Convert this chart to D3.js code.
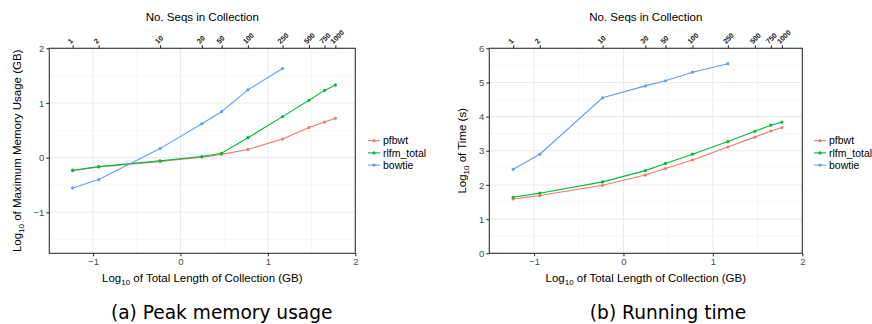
<!DOCTYPE html>
<html>
<head>
<meta charset="utf-8">
<script src="https://cdn.jsdelivr.net/npm/d3@7"></script>
<style>
  body { margin: 0; background: #fff; }
  svg { display: block; }
</style>
</head>
<body>
<div id="chart"></div>
<script>
// x positions: log10 of total collection length (GB), one per collection size
const nSeqs = [1, 2, 10, 30, 50, 100, 250, 500, 750, 1000];
const logLength = [-1.233, -0.935, -0.233, 0.245, 0.47, 0.772, 1.168, 1.47, 1.648, 1.772];

const seriesNames = ['pfbwt', 'rlfm_total', 'bowtie'];
const seriesColors = ['#F8766D', '#00BA38', '#619CFF'];

// (a) log10 peak memory (GB)
const memPfbwt = [-0.24, -0.17, -0.07, 0.01, 0.06, 0.15, 0.34, 0.55, 0.65, 0.72];
const memRlfm = [-0.23, -0.165, -0.06, 0.02, 0.08, 0.365, 0.75, 1.05, 1.23, 1.33];
const memBowtie = [-0.555, -0.40, 0.165, 0.62, 0.84, 1.24, 1.63];

// (b) log10 running time (s)
const timePfbwt = [1.59, 1.69, 1.99, 2.29, 2.48, 2.73, 3.11, 3.40, 3.58, 3.68];
const timeRlfm = [1.64, 1.76, 2.09, 2.42, 2.63, 2.90, 3.27, 3.57, 3.75, 3.84];
const timeBowtie = [2.46, 2.90, 4.55, 4.90, 5.05, 5.30, 5.55];

const W = 872, H = 324;
const svg = d3.select('#chart').append('svg')
  .attr('width', W).attr('height', H)
  .attr('font-family', '"Liberation Sans", Arial, sans-serif');

function drawPanel(opts) {
  const x = d3.scaleLinear().domain([-1.5, 2]).range([opts.left, opts.right]);
  const y = d3.scaleLinear().domain(opts.yDomain).range([opts.bottom, opts.top]);
  const g = svg.append('g');

  // minor grid
  g.selectAll('.vminor').data([-0.5, 0.5, 1.5]).enter().append('line')
    .attr('x1', d => x(d)).attr('x2', d => x(d))
    .attr('y1', opts.top).attr('y2', opts.bottom)
    .attr('stroke', '#F2F2F2').attr('stroke-width', 0.6);
  g.selectAll('.hminor').data(opts.yMinor).enter().append('line')
    .attr('x1', opts.left).attr('x2', opts.right)
    .attr('y1', d => y(d)).attr('y2', d => y(d))
    .attr('stroke', '#F2F2F2').attr('stroke-width', 0.6);
  // major grid
  g.selectAll('.vmajor').data([-1, 0, 1]).enter().append('line')
    .attr('x1', d => x(d)).attr('x2', d => x(d))
    .attr('y1', opts.top).attr('y2', opts.bottom)
    .attr('stroke', '#EBEBEB').attr('stroke-width', 1.1);
  g.selectAll('.hmajor').data(opts.yTicks).enter().append('line')
    .attr('x1', opts.left).attr('x2', opts.right)
    .attr('y1', d => y(d)).attr('y2', d => y(d))
    .attr('stroke', '#EBEBEB').attr('stroke-width', 1.1);

  // series
  const line = d3.line().x(d => x(d[0])).y(d => y(d[1]));
  opts.series.forEach((vals, i) => {
    const pts = vals.map((v, j) => [logLength[j], v]);
    g.append('path').datum(pts)
      .attr('d', line).attr('fill', 'none')
      .attr('stroke', seriesColors[i]).attr('stroke-width', 1.1);
    g.selectAll(null).data(pts).enter().append('circle')
      .attr('cx', d => x(d[0])).attr('cy', d => y(d[1]))
      .attr('r', 1.6).attr('fill', seriesColors[i]);
  });

  // border
  g.append('rect')
    .attr('x', opts.left).attr('y', opts.top)
    .attr('width', opts.right - opts.left).attr('height', opts.bottom - opts.top)
    .attr('fill', 'none').attr('stroke', '#333').attr('stroke-width', 1.1);

  // axes
  const fmt = d => d < 0 ? '\u2212' + Math.abs(d) : String(d);
  const axB = g.append('g').attr('transform', `translate(0,${opts.bottom})`)
    .call(d3.axisBottom(x).tickValues([-1, 0, 1, 2]).tickFormat(fmt).tickSize(3).tickPadding(2));
  const axL = g.append('g').attr('transform', `translate(${opts.left},0)`)
    .call(d3.axisLeft(y).tickValues(opts.yTicks).tickFormat(fmt).tickSize(3).tickPadding(2));
  const axT = g.append('g').attr('transform', `translate(0,${opts.top})`)
    .call(d3.axisTop(x).tickValues(logLength).tickFormat((d, i) => nSeqs[i]).tickSize(3).tickPadding(2));
  [axB, axL, axT].forEach(a => {
    a.select('.domain').remove();
    a.selectAll('.tick line').attr('stroke', '#333').attr('stroke-width', 1.1);
  });
  [axB, axL].forEach(a => {
    a.selectAll('.tick text').attr('fill', '#4D4D4D').attr('font-size', 9.5)
      .attr('font-family', '"Liberation Sans", Arial, sans-serif');
  });
  axT.selectAll('.tick text')
    .attr('fill', '#1a1a1a').attr('font-size', 7.2).attr('font-weight', 'bold')
    .attr('font-family', '"Liberation Sans", Arial, sans-serif')
    .attr('text-anchor', 'start').attr('dy', 0).attr('y', 0)
    .attr('transform', 'translate(-2.5,-4) rotate(-45)');

  const cx = (opts.left + opts.right) / 2;
  const cy = (opts.top + opts.bottom) / 2;
  svg.append('text').attr('x', cx).attr('y', 21)
    .attr('text-anchor', 'middle').attr('font-size', 11.5).attr('fill', '#000')
    .text('No. Seqs in Collection');

  const xt = svg.append('text').attr('x', cx).attr('y', 282)
    .attr('text-anchor', 'middle').attr('font-size', 11.5).attr('fill', '#000');
  xt.append('tspan').text('Log');
  xt.append('tspan').attr('font-size', 8).attr('dy', 2.5).text('10');
  xt.append('tspan').attr('dy', -2.5).text(' of Total Length of Collection (GB)');

  const yt = svg.append('text')
    .attr('transform', `translate(${opts.yTitleX},${cy}) rotate(-90)`)
    .attr('text-anchor', 'middle').attr('font-size', 11.5).attr('fill', '#000');
  yt.append('tspan').text('Log');
  yt.append('tspan').attr('font-size', 8).attr('dy', 2.5).text('10');
  yt.append('tspan').attr('dy', -2.5).text(opts.yTitle);

  // legend
  const lg = svg.append('g').attr('font-size', 10.5);
  seriesNames.forEach((name, i) => {
    const ly = 140.7 + i * 12.2;
    lg.append('line').attr('x1', opts.legendX).attr('x2', opts.legendX + 12)
      .attr('y1', ly).attr('y2', ly)
      .attr('stroke', seriesColors[i]).attr('stroke-width', 1.1);
    lg.append('circle').attr('cx', opts.legendX + 6).attr('cy', ly).attr('r', 1.6)
      .attr('fill', seriesColors[i]);
    lg.append('text').attr('x', opts.legendX + 15).attr('y', ly + 3.7)
      .attr('fill', '#000').text(name);
  });

  svg.append('text').attr('x', opts.capX).attr('y', 319)
    .attr('text-anchor', 'middle').attr('font-size', 18.6)
    .attr('font-family', '"DejaVu Sans", sans-serif').attr('fill', '#000')
    .text(opts.caption);
}

drawPanel({
  left: 49.3, right: 355.3, top: 48.3, bottom: 253.3,
  yDomain: [-1.75, 2], yTicks: [-1, 0, 1, 2], yMinor: [-1.5, -0.5, 0.5, 1.5],
  series: [memPfbwt, memRlfm, memBowtie],
  yTitle: ' of Maximum Memory Usage (GB)', yTitleX: 21,
  legendX: 368, capX: 221.7, caption: '(a) Peak memory usage'
});

drawPanel({
  left: 489.3, right: 802.3, top: 48.3, bottom: 253.3,
  yDomain: [0, 6], yTicks: [0, 1, 2, 3, 4, 5, 6], yMinor: [0.5, 1.5, 2.5, 3.5, 4.5, 5.5],
  series: [timePfbwt, timeRlfm, timeBowtie],
  yTitle: ' of Time (s)', yTitleX: 466,
  legendX: 814, capX: 668, caption: '(b) Running time'
});
</script>
</body>
</html>
